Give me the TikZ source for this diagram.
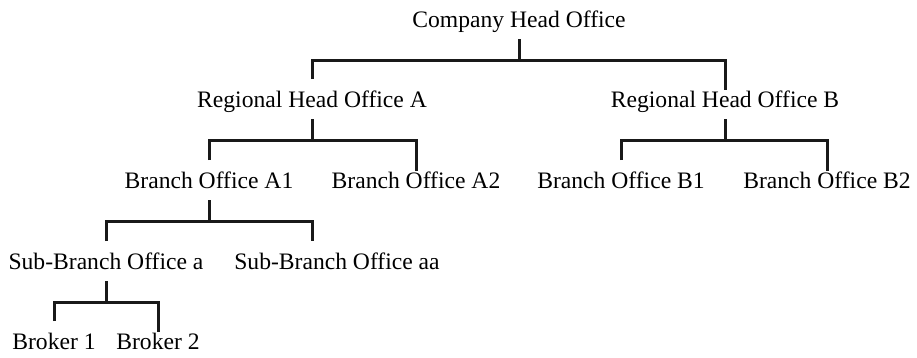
\documentclass[tikz,border=0pt]{standalone}
\usepackage{fontspec}
\setmainfont{Liberation Serif}
\begin{document}
\begin{tikzpicture}[x=1pt,y=-1pt,
  lbl/.style={anchor=base,inner sep=0pt,font=\fontsize{23.6}{28}\selectfont},
  conn/.style={line width=3pt,line join=miter,draw=black!90}]
\useasboundingbox (0,0) rectangle (917,357);
\node[lbl] (cho) at (519,27) {Company Head Office};
\node[lbl] (ra) at (312,107) {Regional Head Office A};
\node[lbl] (rb) at (725,107) {Regional Head Office B};
\node[lbl] (a1) at (209,188) {Branch Office A1};
\node[lbl] (a2) at (416,188) {Branch Office A2};
\node[lbl] (b1) at (621,188) {Branch Office B1};
\node[lbl] (b2) at (827,188) {Branch Office B2};
\node[lbl] (sa) at (106,269) {Sub-Branch Office a};
\node[lbl] (saa) at (337,269) {Sub-Branch Office aa};
\node[lbl] (br1) at (54,349) {Broker 1};
\node[lbl] (br2) at (158,349) {Broker 2};
\coordinate (saatop) at ([xshift=-25pt]saa.base);
\foreach \p/\c/\d in {cho/ra/rb, ra/a1/a2, rb/b1/b2, a1/sa/saatop, sa/br1/br2}{
  \draw[conn] ([yshift=-12pt]\p.base) -- ([yshift=-33pt]\p.base);
  \draw[conn] ([yshift=28pt]\c.base) |- ([yshift=-33pt]\p.base) -| ([yshift=28pt]\d);
}
\end{tikzpicture}
\end{document}
